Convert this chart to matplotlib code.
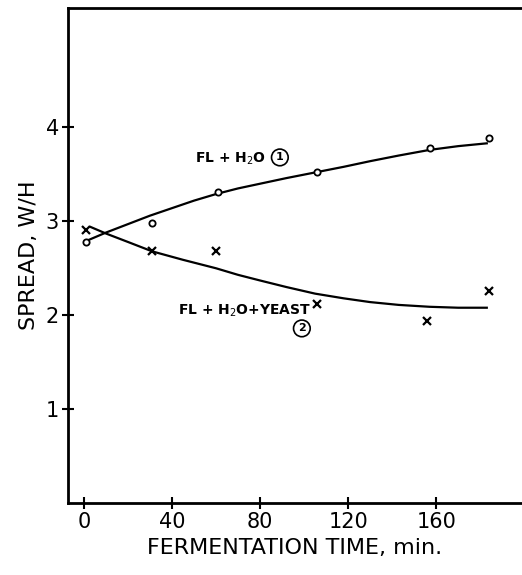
import matplotlib.pyplot as plt
import numpy as np

time_1 = [1, 31, 61, 106, 157, 184]
spread_1 = [2.78, 2.98, 3.31, 3.52, 3.78, 3.89]

time_2 = [1, 31, 60, 106, 156, 184]
spread_2 = [2.91, 2.68, 2.68, 2.12, 1.94, 2.26]

# hand-drawn smooth curves, read at a few positions
curve_t1 = [2, 10, 20, 30, 40, 50, 60, 70, 80, 92, 105, 118, 130, 143, 157, 170, 183]
curve_s1 = [2.80, 2.88, 2.97, 3.06, 3.14, 3.22, 3.29, 3.35, 3.40, 3.46, 3.52, 3.58,
            3.64, 3.70, 3.76, 3.80, 3.83]
curve_t2 = [3, 10, 20, 31, 45, 60, 70, 80, 92, 105, 118, 130, 143, 157, 170, 183]
curve_s2 = [2.94, 2.87, 2.78, 2.68, 2.59, 2.50, 2.43, 2.37, 2.30, 2.23, 2.18, 2.14,
            2.11, 2.09, 2.08, 2.08]

x_ticks = [0, 40, 80, 120, 160]
y_ticks = [1, 2, 3, 4]

fig = plt.figure(figsize=(5.22, 5.75), dpi=100)
ax = fig.add_axes([0.130, 0.125, 0.87, 0.861])

ax.plot(curve_t1, curve_s1, color='black', lw=1.6)
ax.plot(curve_t2, curve_s2, color='black', lw=1.6)
ax.plot(time_1, spread_1, 'o', ms=4.5, mfc='white', mec='black', mew=1.3)
ax.plot(time_2, spread_2, 'x', ms=5.5, color='black', mew=1.6)

# labels on the curves
ax.text(50.5, 3.67, 'FL + H$_2$O', fontsize=10, fontweight='bold', va='center')
ax.text(89, 3.68, '1', fontsize=8, fontweight='bold', ha='center', va='center',
        bbox=dict(boxstyle='circle,pad=0.3', fc='white', ec='black', lw=1.2))
ax.text(42.7, 2.05, 'FL + H$_2$O+YEAST', fontsize=10, fontweight='bold', va='center')
ax.text(99, 1.86, '2', fontsize=8, fontweight='bold', ha='center', va='center',
        bbox=dict(boxstyle='circle,pad=0.3', fc='white', ec='black', lw=1.2))

ax.set_xlim(-7.3, 199)
ax.set_ylim(0, 5.27)
ax.set_xticks(x_ticks)
ax.set_yticks(y_ticks)
ax.tick_params(direction='inout', length=9, width=1.5, labelsize=15, pad=2)
ax.spines['right'].set_visible(False)
for s in ['left', 'bottom', 'top']:
    ax.spines[s].set_linewidth(2)

ax.set_xlabel('FERMENTATION TIME, min.', fontsize=16, labelpad=4)
ax.set_ylabel('SPREAD, W/H', fontsize=16, labelpad=5)

plt.savefig('out.png', dpi=100)
